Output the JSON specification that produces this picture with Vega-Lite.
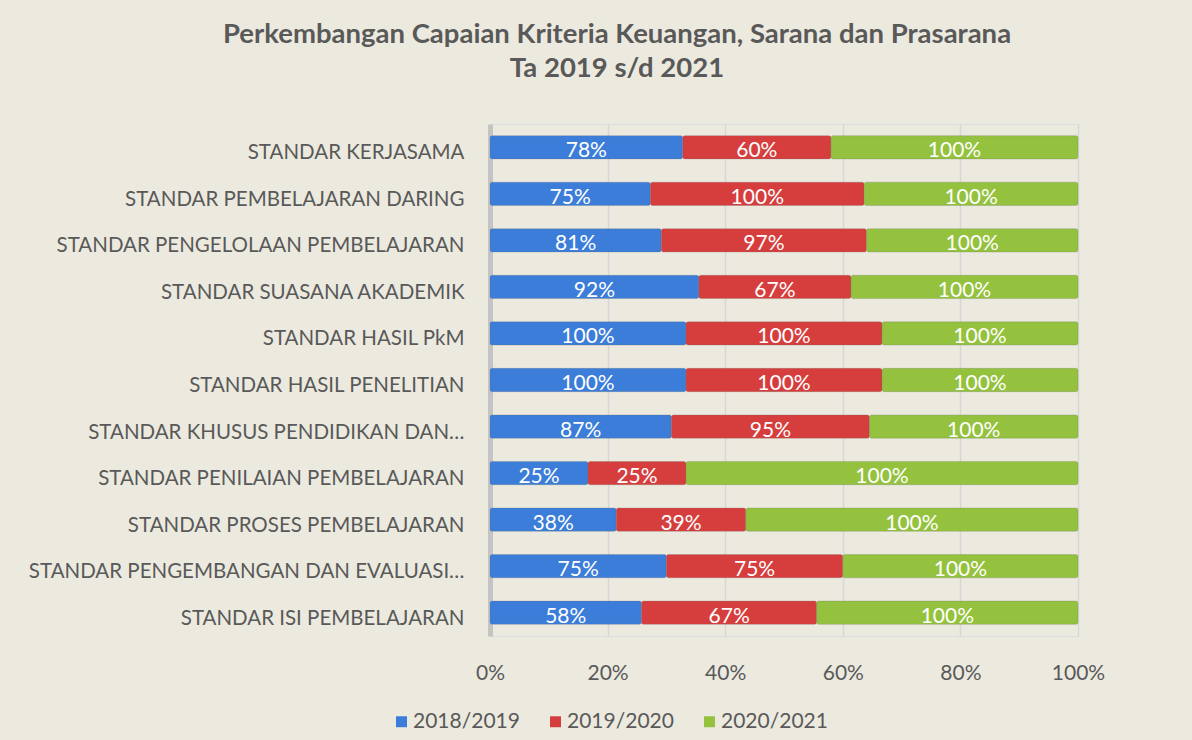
{
  "$schema": "https://vega.github.io/schema/vega-lite/v6.json",
  "autosize": {"type": "none"},
  "width": 588,
  "height": 512,
  "padding": {"left": 490, "top": 124, "right": 114, "bottom": 104},
  "background": "#ECEADF",
  "title": {
    "text": ["Perkembangan Capaian Kriteria Keuangan, Sarana dan Prasarana", "Ta 2019 s/d 2021"],
    "font": "Lato",
    "fontSize": 27.5,
    "fontWeight": "bold",
    "color": "#595959",
    "anchor": "middle",
    "frame": "group",
    "dx": -167,
    "offset": 42,
    "lineHeight": 34
  },
  "data": {
    "values": [
      {"standar": "STANDAR KERJASAMA", "tahun": "2018/2019", "nilai": 78},
      {"standar": "STANDAR KERJASAMA", "tahun": "2019/2020", "nilai": 60},
      {"standar": "STANDAR KERJASAMA", "tahun": "2020/2021", "nilai": 100},
      {"standar": "STANDAR PEMBELAJARAN DARING", "tahun": "2018/2019", "nilai": 75},
      {"standar": "STANDAR PEMBELAJARAN DARING", "tahun": "2019/2020", "nilai": 100},
      {"standar": "STANDAR PEMBELAJARAN DARING", "tahun": "2020/2021", "nilai": 100},
      {"standar": "STANDAR PENGELOLAAN PEMBELAJARAN", "tahun": "2018/2019", "nilai": 81},
      {"standar": "STANDAR PENGELOLAAN PEMBELAJARAN", "tahun": "2019/2020", "nilai": 97},
      {"standar": "STANDAR PENGELOLAAN PEMBELAJARAN", "tahun": "2020/2021", "nilai": 100},
      {"standar": "STANDAR SUASANA AKADEMIK", "tahun": "2018/2019", "nilai": 92},
      {"standar": "STANDAR SUASANA AKADEMIK", "tahun": "2019/2020", "nilai": 67},
      {"standar": "STANDAR SUASANA AKADEMIK", "tahun": "2020/2021", "nilai": 100},
      {"standar": "STANDAR HASIL PkM", "tahun": "2018/2019", "nilai": 100},
      {"standar": "STANDAR HASIL PkM", "tahun": "2019/2020", "nilai": 100},
      {"standar": "STANDAR HASIL PkM", "tahun": "2020/2021", "nilai": 100},
      {"standar": "STANDAR HASIL PENELITIAN", "tahun": "2018/2019", "nilai": 100},
      {"standar": "STANDAR HASIL PENELITIAN", "tahun": "2019/2020", "nilai": 100},
      {"standar": "STANDAR HASIL PENELITIAN", "tahun": "2020/2021", "nilai": 100},
      {"standar": "STANDAR KHUSUS PENDIDIKAN DAN…", "tahun": "2018/2019", "nilai": 87},
      {"standar": "STANDAR KHUSUS PENDIDIKAN DAN…", "tahun": "2019/2020", "nilai": 95},
      {"standar": "STANDAR KHUSUS PENDIDIKAN DAN…", "tahun": "2020/2021", "nilai": 100},
      {"standar": "STANDAR PENILAIAN PEMBELAJARAN", "tahun": "2018/2019", "nilai": 25},
      {"standar": "STANDAR PENILAIAN PEMBELAJARAN", "tahun": "2019/2020", "nilai": 25},
      {"standar": "STANDAR PENILAIAN PEMBELAJARAN", "tahun": "2020/2021", "nilai": 100},
      {"standar": "STANDAR PROSES PEMBELAJARAN", "tahun": "2018/2019", "nilai": 38},
      {"standar": "STANDAR PROSES PEMBELAJARAN", "tahun": "2019/2020", "nilai": 39},
      {"standar": "STANDAR PROSES PEMBELAJARAN", "tahun": "2020/2021", "nilai": 100},
      {"standar": "STANDAR PENGEMBANGAN DAN EVALUASI…", "tahun": "2018/2019", "nilai": 75},
      {"standar": "STANDAR PENGEMBANGAN DAN EVALUASI…", "tahun": "2019/2020", "nilai": 75},
      {"standar": "STANDAR PENGEMBANGAN DAN EVALUASI…", "tahun": "2020/2021", "nilai": 100},
      {"standar": "STANDAR ISI PEMBELAJARAN", "tahun": "2018/2019", "nilai": 58},
      {"standar": "STANDAR ISI PEMBELAJARAN", "tahun": "2019/2020", "nilai": 67},
      {"standar": "STANDAR ISI PEMBELAJARAN", "tahun": "2020/2021", "nilai": 100}
    ]
  },
  "transform": [
    {"stack": "nilai", "groupby": ["standar"], "sort": [{"field": "tahun", "order": "ascending"}], "offset": "normalize", "as": ["x0", "x1"]},
    {"calculate": "(datum.x0 + datum.x1) / 2", "as": "xmid"},
    {"calculate": "datum.nilai + '%'", "as": "label"}
  ],
  "encoding": {
    "y": {
      "field": "standar",
      "type": "nominal",
      "sort": null,
      "scale": {"paddingInner": 0.5, "paddingOuter": 0.25},
      "axis": {
        "title": null,
        "labelFont": "Lato",
        "labelFontSize": 20.5,
        "labelColor": "#595959",
        "labelPadding": 26,
        "labelOffset": 6,
        "labelLimit": 500,
        "ticks": false,
        "domain": true,
        "domainColor": "#C4C4C4",
        "domainWidth": 5
      }
    }
  },
  "layer": [
    {
      "mark": {"type": "bar", "cornerRadius": 2, "stroke": "#6f6f6f", "strokeOpacity": 0.25, "strokeWidth": 1},
      "encoding": {
        "x": {
          "field": "x0",
          "type": "quantitative",
          "scale": {"domain": [0, 1], "nice": false},
          "axis": {
            "title": null,
            "format": ".0%",
            "values": [0, 0.2, 0.4, 0.6, 0.8, 1],
            "labelFont": "Lato",
            "labelFontSize": 21,
            "labelColor": "#595959",
            "labelPadding": 26,
            "labelFlush": false,
            "ticks": false,
            "domain": false,
            "grid": true,
            "gridColor": "#D6D6D6",
            "gridWidth": 1.5
          }
        },
        "x2": {"field": "x1"},
        "color": {
          "field": "tahun",
          "type": "nominal",
          "scale": {"domain": ["2018/2019", "2019/2020", "2020/2021"], "range": ["#3B7DD8", "#D63E3E", "#94C23E"]},
          "legend": {
            "title": null,
            "orient": "none",
            "direction": "horizontal",
            "legendX": -99,
            "legendY": 587,
            "symbolType": "square",
            "symbolSize": 120,
            "symbolStrokeWidth": 0,
            "labelFont": "Lato",
            "labelFontSize": 21,
            "labelColor": "#595959",
            "labelOffset": 1,
            "columnPadding": 25
          }
        }
      }
    },
    {
      "mark": {"type": "text", "color": "white", "font": "Lato", "fontSize": 21, "baseline": "middle", "dy": 4},
      "encoding": {
        "x": {"field": "xmid", "type": "quantitative"},
        "text": {"field": "label", "type": "nominal"}
      }
    }
  ]
}
